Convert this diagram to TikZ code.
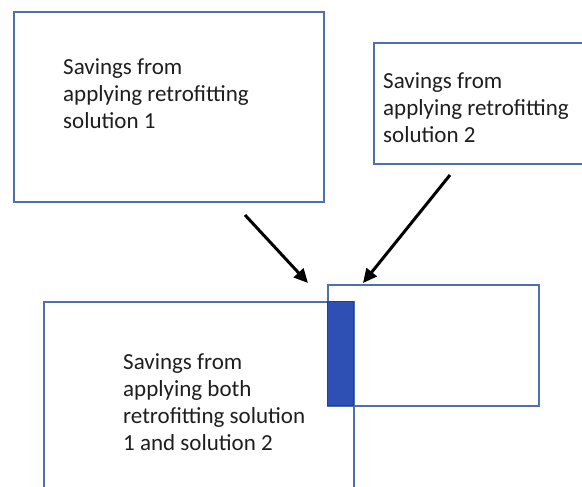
\documentclass[tikz,border=0pt]{standalone}
\usepackage{fontspec}
\setmainfont{Carlito}
\usetikzlibrary{arrows.meta}
\definecolor{boxblue}{RGB}{80,110,176}
\definecolor{overlapblue}{RGB}{46,80,180}
\definecolor{textgray}{RGB}{30,30,30}
\begin{document}
\begin{tikzpicture}[x=1pt,y=-1pt,
  box/.style={draw=boxblue, line width=1.8pt, anchor=north west, inner sep=0pt},
  boxtext/.style={anchor=north west, align=left, inner sep=0pt, text=textgray,
    font=\fontsize{23}{27}\selectfont},
  pointer/.style={line width=3pt, -{Triangle[length=14pt,width=13pt]}}]
  \useasboundingbox (0,0) rectangle (582,487);

  % the two single solutions
  \node[box, minimum width=310pt, minimum height=190pt] (sol1) at (13,11) {};
  \node[boxtext] (sol1text) at (63,58) {Savings from\\applying retrofitting\\solution 1};

  \node[box, minimum width=212pt, minimum height=121pt] (sol2) at (373,42) {};
  \node[boxtext] (sol2text) at (383,72) {Savings from\\applying retrofitting\\solution 2};

  % both solutions together
  \node[box, minimum width=310pt, minimum height=200pt] (both) at (43,301) {};
  \node[box, minimum width=211pt, minimum height=121pt] (extra) at (327,284) {};
  \node[box, draw=overlapblue!80!black, fill=overlapblue, line width=1pt,
    minimum width=26pt, minimum height=104pt] (overlap) at (327,301) {};
  \node[boxtext] (bothtext) at (123,353) {Savings from\\applying both\\retrofitting solution\\1 and solution 2};

  \coordinate (from1) at (245,215);
  \coordinate (to1) at (308,283);
  \coordinate (from2) at (450,175);
  \coordinate (to2) at (363,283);
  \draw[pointer] (from1) -- (to1);
  \draw[pointer] (from2) -- (to2);
\end{tikzpicture}
\end{document}
